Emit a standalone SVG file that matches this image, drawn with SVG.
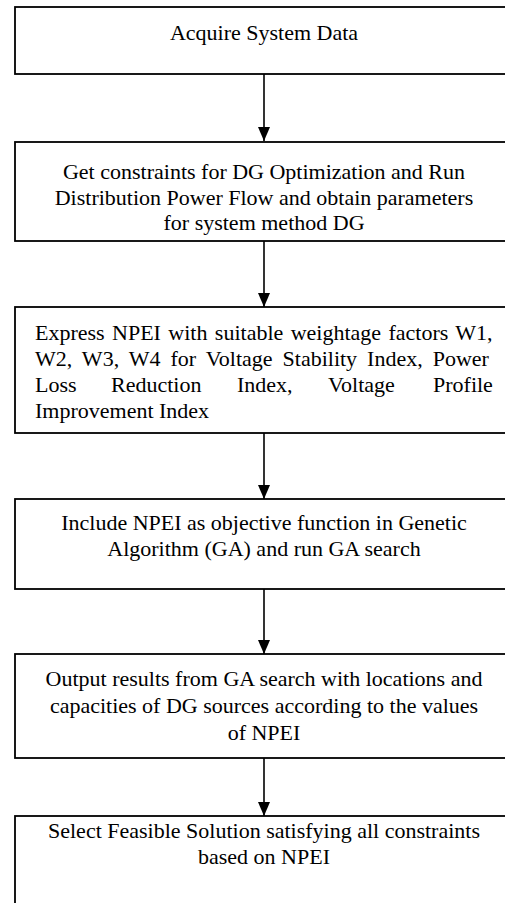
<svg xmlns="http://www.w3.org/2000/svg" width="505" height="903" viewBox="0 0 505 903">
<style>
.box{fill:#fff;stroke:#000;stroke-width:1.8}
.t{font-family:'Liberation Serif','Tinos','Times New Roman','DejaVu Serif',serif;font-size:22px;fill:#000}
.c{text-anchor:middle}
.conn{stroke:#000;stroke-width:1.6;fill:none}
</style>
<defs>
<marker id="ah" markerUnits="userSpaceOnUse" markerWidth="14" markerHeight="12" refX="14" refY="6" orient="auto" viewBox="0 0 14 12">
<path d="M0,0 L14,6 L0,12 Z" fill="#000"/>
</marker>
</defs>
<rect width="505" height="903" fill="#fff"/>
<g id="connectors">
<line class="conn" x1="264" y1="74" x2="264" y2="141" marker-end="url(#ah)"/>
<line class="conn" x1="264" y1="241" x2="264" y2="307" marker-end="url(#ah)"/>
<line class="conn" x1="264" y1="433" x2="264" y2="499" marker-end="url(#ah)"/>
<line class="conn" x1="264" y1="589" x2="264" y2="654" marker-end="url(#ah)"/>
<line class="conn" x1="264" y1="758" x2="264" y2="816" marker-end="url(#ah)"/>
</g>
<g id="n1">
<rect class="box" x="15" y="7" width="498" height="67"/>
<text class="t c" x="264" y="40" font-family="Liberation Serif, serif">Acquire System Data</text>
</g>
<g id="n2">
<rect class="box" x="15" y="142" width="498" height="99"/>
<text class="t c" x="264" y="179">Get constraints for DG Optimization and Run</text>
<text class="t c" x="264" y="205">Distribution Power Flow and obtain parameters</text>
<text class="t c" x="264" y="230">for system method DG</text>
</g>
<g id="n3">
<rect class="box" x="15" y="307" width="498" height="126"/>
<text class="t" x="35" y="340" word-spacing="1.9">Express NPEI with suitable weightage factors W1,</text>
<text class="t" x="35" y="366" word-spacing="4.5">W2, W3, W4 for Voltage Stability Index, Power</text>
<text class="t" y="392"><tspan x="35">Loss</tspan><tspan x="111">Reduction</tspan><tspan x="237">Index,</tspan><tspan x="328">Voltage</tspan><tspan x="433">Profile</tspan></text>
<text class="t" x="35" y="418">Improvement Index</text>
</g>
<g id="n4">
<rect class="box" x="15" y="499" width="498" height="90"/>
<text class="t c" x="264" y="530">Include NPEI as objective function in Genetic</text>
<text class="t c" x="264" y="556">Algorithm (GA) and run GA search</text>
</g>
<g id="n5">
<rect class="box" x="15" y="654" width="498" height="104"/>
<text class="t c" x="264" y="686">Output results from GA search with locations and</text>
<text class="t c" x="264" y="713">capacities of DG sources according to the values</text>
<text class="t c" x="264" y="740">of NPEI</text>
</g>
<g id="n6">
<rect class="box" x="15" y="816" width="498" height="100"/>
<text class="t c" x="264" y="838">Select Feasible Solution satisfying all constraints</text>
<text class="t c" x="264" y="864">based on NPEI</text>
</g>
</svg>
